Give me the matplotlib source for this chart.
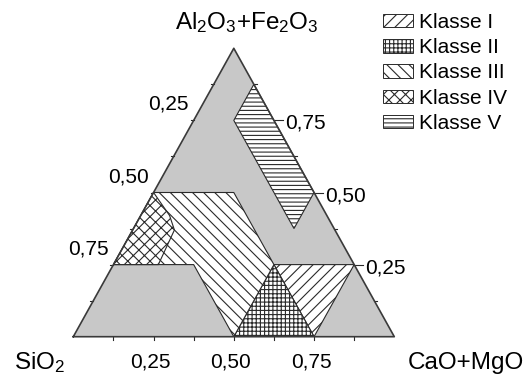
import numpy as np
import matplotlib
matplotlib.use('Agg')
import matplotlib.pyplot as plt
from matplotlib.patches import Polygon, Patch

plt.rcParams['font.family'] = ['Liberation Sans', 'DejaVu Sans']
plt.rcParams['mathtext.fontset'] = 'custom'
plt.rcParams['mathtext.rm'] = 'Liberation Sans'
plt.rcParams['mathtext.default'] = 'regular'
plt.rcParams['hatch.linewidth'] = 0.8

# class regions as ternary fractions (SiO2, CaO+MgO, Al2O3+Fe2O3)
k1_sio2 = [0.25, 0.00, 0.25]
k1_cao = [0.50, 0.75, 0.75]
k1_al = [0.25, 0.25, 0.00]

k2_sio2 = [0.25, 0.50, 0.25]
k2_cao = [0.50, 0.50, 0.75]
k2_al = [0.25, 0.00, 0.00]

k3_sio2 = [0.50, 0.25, 0.25, 0.50, 0.50, 0.75]
k3_cao = [0.00, 0.25, 0.50, 0.50, 0.25, 0.00]
k3_al = [0.50, 0.50, 0.25, 0.00, 0.25, 0.25]

k4_sio2 = [0.50, 0.49, 0.50, 0.61, 0.75]
k4_cao = [0.00, 0.09, 0.13, 0.14, 0.00]
k4_al = [0.50, 0.42, 0.37, 0.25, 0.25]

k5_sio2 = [0.000, 0.125, 0.125, 0.000]
k5_cao = [0.125, 0.125, 0.500, 0.500]
k5_al = [0.875, 0.750, 0.375, 0.500]

labels = ['Klasse I', 'Klasse II', 'Klasse III', 'Klasse IV', 'Klasse V']
hatches = ['///', '++++', '\\\\\\', 'xxx', '----']
ticks = [0.125, 0.25, 0.375, 0.5, 0.625, 0.75, 0.875]
tick_labels = {0.25: '0,25', 0.5: '0,50', 0.75: '0,75'}

gray = '#c8c8c8'
dark = '#2a2a2a'


def tern(s, c, a):
    s, c, a = np.asarray(s), np.asarray(c), np.asarray(a)
    tot = s + c + a
    return c / tot + a / tot / 2, a / tot


fig = plt.figure(figsize=(5.29, 3.74), dpi=100)
W, H = 321.0, 288.4
ax = fig.add_axes([73.3 / 529, 37.3 / 374, W / 529, H / 374])
ax.set_xlim(0, 1)
ax.set_ylim(0, 1)
ax.axis('off')

# gray background triangle
bx, by = tern([1, 0, 0], [0, 1, 0], [0, 0, 1])
ax.add_patch(Polygon(np.c_[bx, by], closed=True, facecolor=gray, edgecolor='none', zorder=1))

regions = [(k1_sio2, k1_cao, k1_al), (k2_sio2, k2_cao, k2_al), (k3_sio2, k3_cao, k3_al),
           (k4_sio2, k4_cao, k4_al), (k5_sio2, k5_cao, k5_al)]
order = [2, 0, 1, 3, 4]  # IV drawn over III
for i in order:
    x, y = tern(*regions[i])
    ax.add_patch(Polygon(np.c_[x, y], closed=True, facecolor='white', edgecolor=dark,
                         hatch=hatches[i], lw=0.8, zorder=2 + i))

# triangle outline
ax.plot(np.r_[bx, bx[0]], np.r_[by, by[0]], color='#3a3a3a', lw=1.2, zorder=10, clip_on=False)

# ticks (lengths in pixels)
for t in ticks:
    # bottom axis: CaO+MgO
    x, y = tern([1 - t], [t], [0])
    ax.plot([x[0], x[0]], [0, -3 / H], color=dark, lw=0.8, clip_on=False)
    # left axis: SiO2
    x, y = tern([t], [0], [1 - t])
    ax.plot([x[0], x[0] - 3 / W], [y[0], y[0]], color=dark, lw=0.8, clip_on=False)
    # right axis: Al2O3+Fe2O3
    x, y = tern([0], [1 - t], [t])
    ln = 9 if t in tick_labels else 3
    ax.plot([x[0], x[0] + ln / W], [y[0], y[0]], color=dark, lw=0.8, clip_on=False)
    if t in tick_labels:
        lab = tick_labels[t]
        bx0, _ = tern([1 - t], [t], [0])
        ax.annotate(lab, (bx0[0], 0), xytext=(-3, -31), textcoords='offset pixels',
                    ha='center', va='baseline', fontsize=15)
        lx, ly = tern([t], [0], [1 - t])
        ax.annotate(lab, (lx[0], ly[0]), xytext=(-5, 16), textcoords='offset pixels',
                    ha='right', va='center', fontsize=15)
        ax.annotate(lab, (x[0], y[0]), xytext=(11, -3), textcoords='offset pixels',
                    ha='left', va='center', fontsize=15)

fig.text(247 / 529, 1 - 29 / 374, r'Al$_2$O$_3$+Fe$_2$O$_3$', ha='center', va='baseline', fontsize=17.5)
fig.text(13.6 / 529, 1 - 369 / 374, r'SiO$_2$', ha='left', va='baseline', fontsize=17.5)
fig.text(524 / 529, 1 - 369 / 374, 'CaO+MgO', ha='right', va='baseline', fontsize=17.5)

handles = [Patch(facecolor='white', edgecolor=dark, hatch=h, lw=0.7) for h in hatches]
fig.legend(handles, labels, loc='upper left', bbox_to_anchor=(383 / 529, 1 - 13 / 374),
           frameon=False, fontsize=15, handlelength=1.45, handleheight=0.62,
           handletextpad=0.3, labelspacing=0.3, borderpad=0, borderaxespad=0)

fig.savefig('out.png', dpi=100)
